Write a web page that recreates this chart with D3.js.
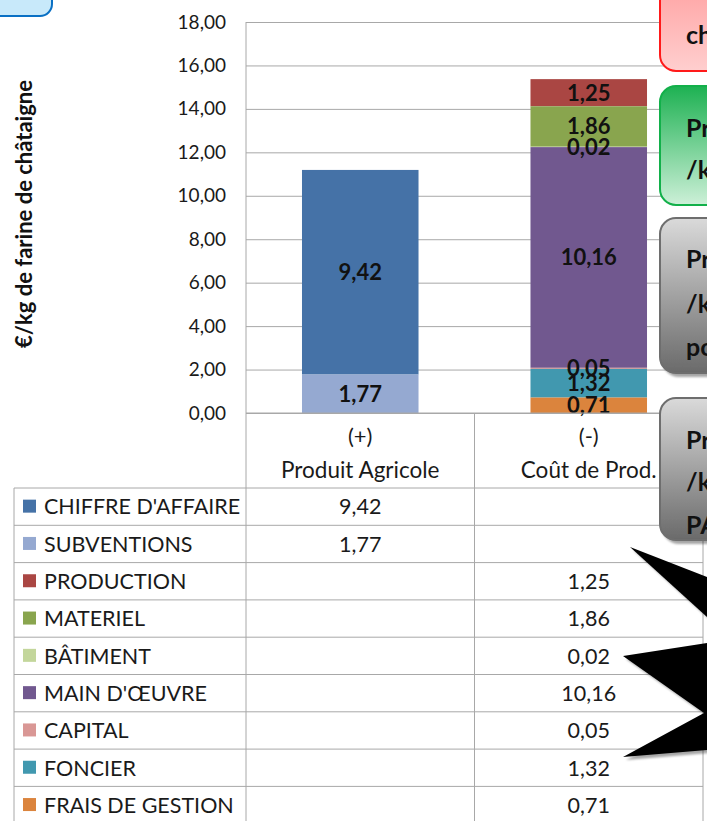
<!DOCTYPE html>
<html>
<head>
<meta charset="utf-8">
<script src="https://d3js.org/d3.v7.min.js"></script>
<style>
  body { margin: 0; background: #fff; }
  svg { display: block; font-family: Lato, 'Open Sans', sans-serif; }
</style>
</head>
<body>
<svg id="chart"></svg>
<script>
// chart data
const categories = ["Produit Agricole", "Coût de Prod."];
const signs = ["(+)", "(-)"];
const seriesNames = ["CHIFFRE D'AFFAIRE", "SUBVENTIONS", "PRODUCTION", "MATERIEL", "BÂTIMENT",
  "MAIN D'ŒUVRE", "CAPITAL", "FONCIER", "FRAIS DE GESTION"];
const seriesColors = ["#4572A7", "#95A9D1", "#AA4643", "#89A54E", "#C3D69B",
  "#71588F", "#D99795", "#4198AF", "#DB843D"];
const produitValues = [9.42, 1.77, null, null, null, null, null, null, null];
const coutValues = [null, null, 1.25, 1.86, 0.02, 10.16, 0.05, 1.32, 0.71];
const yTicks = [0, 2, 4, 6, 8, 10, 12, 14, 16, 18];

const width = 707, height = 821;
const plotLeft = 246, plotRight = 703, plotTop = 22, plotBottom = 413;
const rowH = 37.3, tableTop = 488, tableLeft = 14;

const fr = d3.formatLocale({decimal: ",", thousands: " ", grouping: [3], currency: ["", " €"]});
const fmt = fr.format(".2f");

const rows = categories.map((c, i) => {
  const vals = i === 0 ? produitValues : coutValues;
  const r = {cat: c};
  seriesNames.forEach((s, j) => r[s] = vals[j] || 0);
  return r;
});

const stack = d3.stack().keys(seriesNames).order(d3.stackOrderReverse);
const stacked = stack(rows);

const x = d3.scaleBand().domain(categories).range([plotLeft, plotRight])
  .paddingInner(0.49).paddingOuter(0.245);
const xCol = d3.scaleBand().domain(categories).range([plotLeft, plotRight]);
const y = d3.scaleLinear().domain([0, 18]).range([plotBottom, plotTop]);

const svg = d3.select("#chart").attr("width", width).attr("height", height)
  .attr("viewBox", [0, 0, width, height]);

const defs = svg.append("defs");
function grad(id, c1, c2) {
  const g = defs.append("linearGradient").attr("id", id).attr("x1", 0).attr("x2", 0).attr("y1", 0).attr("y2", 1);
  g.append("stop").attr("offset", "0%").attr("stop-color", c1);
  g.append("stop").attr("offset", "100%").attr("stop-color", c2);
}
grad("gRed", "#FF9C9C", "#FFCFCF");
grad("gGreen", "#1DB152", "#CDF0D8");
grad("gGrey", "#DADADA", "#6A6A6A");
const sh = defs.append("filter").attr("id", "shadow").attr("x", "-20%").attr("y", "-20%").attr("width", "150%").attr("height", "150%");
sh.append("feDropShadow").attr("dx", 3).attr("dy", 3).attr("stdDeviation", 1.2)
  .attr("flood-color", "#000").attr("flood-opacity", 0.35);

// gridlines
svg.append("g")
  .attr("transform", `translate(${plotLeft},0)`)
  .call(d3.axisLeft(y).tickValues(yTicks).tickSize(-(plotRight - plotLeft)).tickFormat(""))
  .call(g => g.select(".domain").remove())
  .call(g => g.selectAll("line").attr("stroke", "#A8A8A8"));

// y axis labels
svg.append("g")
  .attr("transform", `translate(${plotLeft},0)`)
  .call(d3.axisLeft(y).tickValues(yTicks).tickSize(0).tickPadding(20).tickFormat(fmt))
  .call(g => g.select(".domain").remove())
  .call(g => g.selectAll("text").attr("font-size", 19).attr("fill", "#1a1a1a")
    .attr("font-family", "Lato, sans-serif"));

svg.append("line").attr("x1", plotLeft).attr("x2", plotLeft).attr("y1", plotTop).attr("y2", height)
  .attr("stroke", "#A8A8A8");

svg.append("text")
  .attr("transform", `translate(32,214) rotate(-90)`)
  .attr("text-anchor", "middle").attr("font-weight", "bold").attr("font-size", 22)
  .attr("fill", "#111")
  .text("€/kg de farine de châtaigne");

// bars
const layers = svg.append("g").selectAll("g").data(stacked).join("g")
  .attr("fill", d => seriesColors[seriesNames.indexOf(d.key)]);
layers.selectAll("rect").data(d => d.filter(p => p[1] - p[0] > 0)).join("rect")
  .attr("x", d => x(d.data.cat))
  .attr("width", x.bandwidth())
  .attr("y", d => y(d[1]))
  .attr("height", d => y(d[0]) - y(d[1]));

// data labels
const labels = [];
stacked.forEach(layer => layer.forEach(p => {
  const v = p[1] - p[0];
  if (v > 0) labels.push({v, cx: x(p.data.cat) + x.bandwidth() / 2, cy: y((p[0] + p[1]) / 2)});
}));
svg.append("g").selectAll("text").data(labels).join("text")
  .attr("x", d => d.cx).attr("y", d => d.cy).attr("dy", "0.36em")
  .attr("text-anchor", "middle").attr("font-weight", "bold").attr("font-size", 22)
  .attr("fill", "#111")
  .text(d => fmt(d.v));

// data table
const table = svg.append("g").attr("stroke", "#A8A8A8").attr("fill", "none");
table.append("line").attr("x1", plotLeft).attr("x2", plotRight).attr("y1", plotBottom).attr("y2", plotBottom);
[plotLeft + (plotRight - plotLeft) / 2, plotRight].forEach(xx =>
  table.append("line").attr("x1", xx).attr("x2", xx).attr("y1", plotBottom).attr("y2", height));
table.append("line").attr("x1", tableLeft).attr("x2", tableLeft).attr("y1", tableTop).attr("y2", height);
seriesNames.forEach((s, i) =>
  table.append("line").attr("x1", tableLeft).attr("x2", plotRight)
    .attr("y1", tableTop + i * rowH).attr("y2", tableTop + i * rowH));

categories.forEach((c, i) => {
  const cx = xCol(c) + xCol.bandwidth() / 2;
  svg.append("text").attr("x", cx).attr("y", 436).attr("dy", "0.35em")
    .attr("text-anchor", "middle").attr("font-size", 22).attr("fill", "#1a1a1a").text(signs[i]);
  svg.append("text").attr("x", cx).attr("y", 470).attr("dy", "0.35em")
    .attr("text-anchor", "middle").attr("font-size", 22.5).attr("fill", "#1a1a1a").text(c);
});

const tRows = svg.append("g").selectAll("g").data(seriesNames).join("g")
  .attr("transform", (d, i) => `translate(0,${tableTop + i * rowH + rowH / 2})`);
tRows.append("rect").attr("x", 23).attr("y", -7).attr("width", 13).attr("height", 13)
  .attr("fill", (d, i) => seriesColors[i]);
tRows.append("text").attr("x", 44).attr("dy", "0.36em").attr("font-size", 21.5)
  .attr("fill", "#1a1a1a").text(d => d);
tRows.append("text").attr("x", xCol(categories[0]) + xCol.bandwidth() / 2).attr("dy", "0.36em")
  .attr("text-anchor", "middle").attr("font-size", 21.5).attr("fill", "#1a1a1a")
  .text((d, i) => produitValues[i] == null ? "" : fmt(produitValues[i]));
tRows.append("text").attr("x", xCol(categories[1]) + xCol.bandwidth() / 2).attr("dy", "0.36em")
  .attr("text-anchor", "middle").attr("font-size", 21.5).attr("fill", "#1a1a1a")
  .text((d, i) => coutValues[i] == null ? "" : fmt(coutValues[i]));

// overlay shapes from the slide
svg.append("rect").attr("x", -20).attr("y", -20).attr("width", 72).attr("height", 36).attr("rx", 12)
  .attr("fill", "#C8E9FA").attr("stroke", "#0A70C4").attr("stroke-width", 2);

const boxes = [
  {y: -30, h: 101, fill: "url(#gRed)", stroke: "#FF1A1A", lines: [["chiffre", 35]], shadow: false},
  {y: 86, h: 119, fill: "url(#gGreen)", stroke: "#12B04A", lines: [["Prix", 128], ["/kg", 170]], shadow: false},
  {y: 218, h: 155, fill: "url(#gGrey)", stroke: "#6E6E6E", lines: [["Prix", 259], ["/kg", 304], ["pour", 347]], shadow: true},
  {y: 398, h: 142, fill: "url(#gGrey)", stroke: "#6E6E6E", lines: [["Prix", 440], ["/kg", 482], ["PAR", 525]], shadow: true}
];
boxes.forEach(b => {
  const g = svg.append("g");
  g.append("rect").attr("x", 660).attr("y", b.y).attr("width", 110).attr("height", b.h).attr("rx", 16)
    .attr("fill", b.fill).attr("stroke", b.stroke).attr("stroke-width", 2)
    .attr("filter", b.shadow ? "url(#shadow)" : null);
  b.lines.forEach(([t, ty]) => g.append("text").attr("x", 686).attr("y", ty).attr("dy", "0.36em")
    .attr("font-size", 25).attr("font-weight", "bold").attr("fill", "#111").text(t));
});

// black arrow burst
const burstA = [[630, 547], [707, 577], [707, 617]];
const burstB = [[623, 656], [707, 643], [707, 750], [623, 757], [704, 713]];
const line = d3.line();
[burstA, burstB].forEach(p => svg.append("path").attr("d", line(p) + "Z")
  .attr("fill", "#000").attr("filter", "url(#shadow)"));
</script>
</body>
</html>
